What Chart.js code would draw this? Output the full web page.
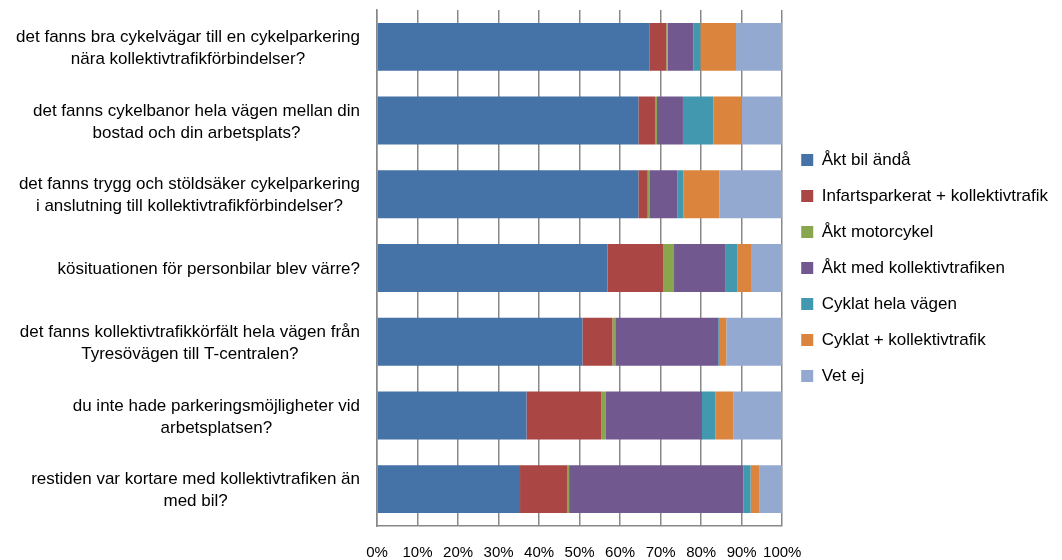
<!DOCTYPE html>
<html>
<head>
<meta charset="utf-8">
<script src="https://cdn.jsdelivr.net/npm/chart.js@4"></script>
<style>
  body { margin: 0; background: #fff; }
</style>
</head>
<body>
<canvas id="chart" width="1062" height="560"></canvas>
<script>
// questions (top to bottom)
const categories = [
  ["det fanns bra cykelvägar till en cykelparkering", "nära kollektivtrafikförbindelser?"],
  ["det fanns cykelbanor hela vägen mellan din", "bostad och din arbetsplats?"],
  ["det fanns trygg och stöldsäker cykelparkering", "i anslutning till kollektivtrafikförbindelser?"],
  ["kösituationen för personbilar blev värre?"],
  ["det fanns kollektivtrafikkörfält hela vägen från", "Tyresövägen till T-centralen?"],
  ["du inte hade parkeringsmöjligheter vid", "arbetsplatsen?"],
  ["restiden var kortare med kollektivtrafiken än", "med bil?"]
];

const seriesNames = [
  "Åkt bil ändå",
  "Infartsparkerat + kollektivtrafik",
  "Åkt motorcykel",
  "Åkt med kollektivtrafiken",
  "Cyklat hela vägen",
  "Cyklat + kollektivtrafik",
  "Vet ej"
];

// percent per question
const aktBil      = [67.2, 64.5, 64.5, 56.9, 50.7, 36.9, 35.3];
const infart      = [4.2, 4.1, 2.3, 13.8, 7.4, 18.4, 11.6];
const motorcykel  = [0.3, 0.5, 0.4, 2.6, 0.7, 1.2, 0.5];
const kollektiv   = [6.4, 6.4, 6.9, 12.6, 25.4, 23.7, 43.0];
const cykelHela   = [1.7, 7.5, 1.5, 3.0, 0.4, 3.3, 1.8];
const cykelKoll   = [8.8, 7.0, 8.9, 3.4, 1.6, 4.4, 2.1];
const vetEj       = [11.4, 10.0, 15.5, 7.7, 13.8, 12.1, 5.7];

const colors = ['#4572A7', '#AA4643', '#89A54E', '#71588F', '#4198AF', '#DB843D', '#93A9CF'];
const xTicks = [0, 10, 20, 30, 40, 50, 60, 70, 80, 90, 100];

const fontFamily = "'Liberation Sans', Arial, sans-serif";
const allSeries = [aktBil, infart, motorcykel, kollektiv, cykelHela, cykelKoll, vetEj];

let datasets = [];
for (let i = 0; i < allSeries.length; i++) {
  datasets.push({
    label: seriesNames[i],
    data: allSeries[i],
    backgroundColor: colors[i],
    borderWidth: 0,
    categoryPercentage: 1,
    barPercentage: 0.65
  });
}

// category labels: each block right aligned, lines centered inside the block
const questionLabels = {
  id: 'questionLabels',
  afterDraw(chart) {
    const ctx = chart.ctx;
    const yScale = chart.scales.y;
    const right = chart.chartArea.left - 17;
    const lineHeight = 22;
    ctx.save();
    ctx.font = "17px " + fontFamily;
    ctx.fillStyle = '#000';
    ctx.textAlign = 'center';
    ctx.textBaseline = 'middle';
    chart.data.labels.forEach((lines, i) => {
      const y = yScale.getPixelForValue(i) + 1.5;
      let maxW = Math.max(...lines.map(l => ctx.measureText(l).width));
      let cx = right - maxW / 2;
      lines.forEach((line, j) => {
        ctx.fillText(line, cx, y + (j - (lines.length - 1) / 2) * lineHeight);
      });
    });
    ctx.restore();
  }
};

const chart = new Chart(document.getElementById('chart'), {
  type: 'bar',
  data: {
    labels: categories,
    datasets: datasets
  },
  options: {
    indexAxis: 'y',
    responsive: false,
    animation: false,
    layout: {
      padding: { top: 10, left: 0, right: 4, bottom: 0 }
    },
    scales: {
      x: {
        stacked: true,
        min: 0,
        max: 100,
        afterBuildTicks: (scale) => {
          scale.ticks = xTicks.map(v => ({ value: v }));
        },
        afterFit: (scale) => {
          scale.height = 34;
        },
        grid: {
          color: '#888',
          lineWidth: 1.5,
          drawTicks: false
        },
        border: { color: '#888', width: 1.5 },
        ticks: {
          padding: 18,
          autoSkip: false,
          color: '#000',
          font: { family: fontFamily, size: 15 },
          maxRotation: 0,
          callback: (v) => v + '%'
        }
      },
      y: {
        stacked: true,
        grid: { display: false },
        border: { color: '#888', width: 1.5 },
        ticks: { display: false },
        afterFit: (scale) => {
          scale.width = 377;
        }
      }
    },
    plugins: {
      legend: {
        position: 'right',
        fullSize: false,
        maxWidth: 320,
        labels: {
          boxWidth: 12,
          boxHeight: 12,
          padding: 19,
          color: '#000',
          font: { family: fontFamily, size: 17 }
        }
      },
      tooltip: { enabled: false }
    }
  },
  plugins: [questionLabels]
});
</script>
</body>
</html>
